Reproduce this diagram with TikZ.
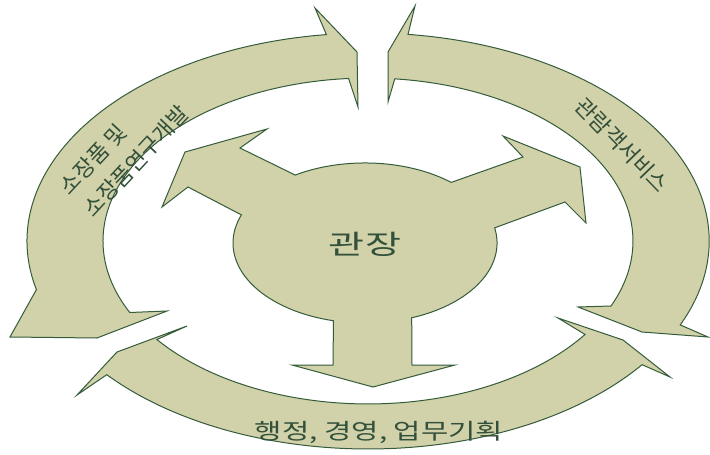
\documentclass[tikz,border=0pt]{standalone}
\usepackage{fontspec}
\setmainfont{Noto Sans CJK KR}
\usepackage{tikz}
\usetikzlibrary{calc}
\definecolor{sagefill}{RGB}{209,209,170}
\definecolor{sageline}{RGB}{52,92,58}
\definecolor{sageink}{RGB}{50,80,58}
\tikzset{
  band/.style={draw=sageline,fill=sagefill,line width=1pt,line join=miter},
  outerring/.style={x radius=341,y radius=208},
  innerring/.style={x radius=265,y radius=163},
  hubring/.style={x radius=132,y radius=80},
  ringlab/.style={text=sageink,inner sep=0pt,font=\fontsize{22}{26}\selectfont},
  hublab/.style={text=sageink,inner sep=0pt,font=\fontsize{27}{30}\selectfont}
}

\begin{document}
\begin{tikzpicture}[x=1pt,y=-1pt]
  \useasboundingbox (0,0) rectangle (710,455);
  \coordinate (ring) at (368,241);
  \coordinate (hub) at (365,244);

  \draw[band] (326.4,34.6) arc[outerring,start angle=-97,end angle=-193.5]
    -- (10,337) -- (97,338) -- (167,311)
    -- (129.8,312.5) arc[innerring,start angle=-206,end angle=-94.2]
    -- (358,107) -- (357,52) -- (315,8) -- cycle;
  \draw[band] (408,34.4) arc[outerring,start angle=-83.3,end angle=23.8]
    -- (708,337) -- (642,332) -- (578,307)
    -- (611,306) arc[innerring,start angle=23.5,end angle=-84.2]
    -- (388,102) -- (388,52) -- (415,6) -- cycle;
  \draw[band] (156.9,339.5) arc[innerring,start angle=142.8,end angle=35]
    -- (558,318) -- (623,340) -- (670,377)
    -- (642.1,364.7) arc[outerring,start angle=36.5,end angle=140]
    -- (77,395) -- (117,352) -- (187,326) -- cycle;

  \draw[band] (411.7,317.8) arc[hubring,start angle=69.3,end angle=-10.9]
    -- (565,202) -- (586,223) -- (580,167) -- (503,136) -- (523,157)
    -- (451.2,182.4) arc[hubring,start angle=-49.2,end angle=-121.9]
    -- (240,148) -- (267,129) -- (185,152) -- (162,207) -- (188,187)
    -- (241.4,214.9) arc[hubring,start angle=-159.4,end angle=-256.2]
    -- (333,365) -- (292,365) -- (373,387) -- (455,365) -- (412,365) -- cycle;

  \node[hublab] (director) at (hub) {\scalebox{1.45}[1]{관장}};
  \node[ringlab,rotate=47,align=left] (collection) at (124,150)
    {소장품 및\\[7pt]소장품연구개발};
  \node[ringlab,rotate=-46] (visitor) at (622,145) {관람객서비스};
  \node[ringlab,font=\fontsize{22}{24}\selectfont] (admin) at (379,432)
    {\scalebox{1.35}[1]{행정, 경영, 업무기획}};
\end{tikzpicture}
\end{document}
